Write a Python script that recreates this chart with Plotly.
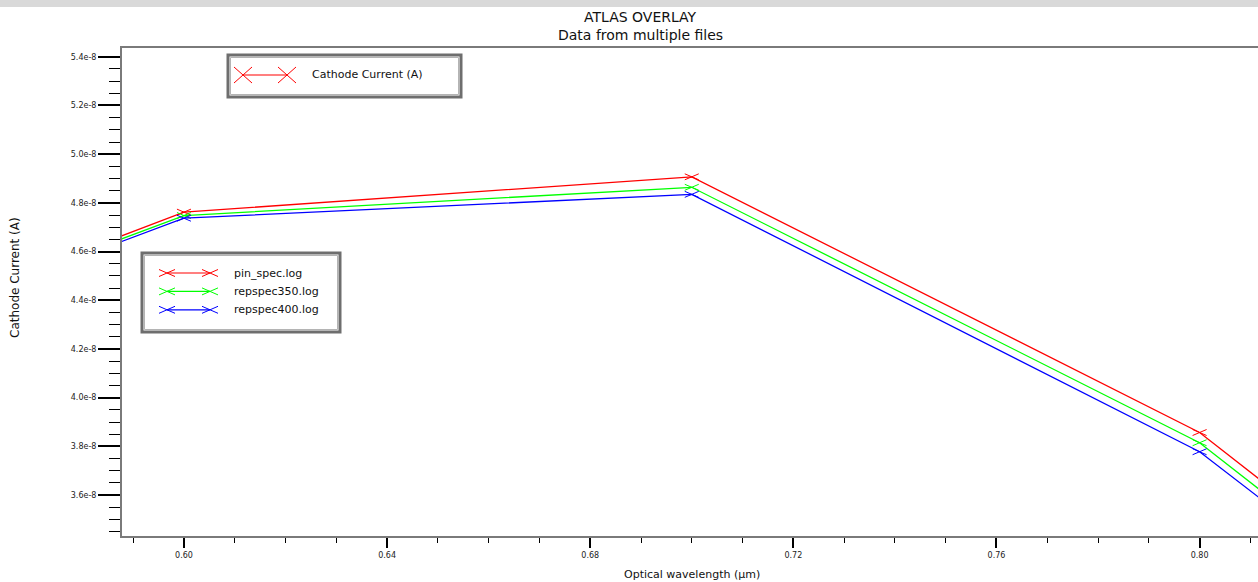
import plotly.graph_objects as go

# ---- data -------------------------------------------------------------
wavelength = [0.5, 0.6, 0.7, 0.8, 0.9]  # optical wavelength (um)
pin_spec = [3.967e-8, 4.762e-8, 4.907e-8, 3.857e-8, 2.230e-8]
repspec350 = [3.968e-8, 4.748e-8, 4.864e-8, 3.815e-8, 2.185e-8]
repspec400 = [3.957e-8, 4.737e-8, 4.835e-8, 3.778e-8, 2.170e-8]

series_names = ["pin_spec.log", "repspec350.log", "repspec400.log"]
series_colors = ["#ff0000", "#00ff00", "#0000ff"]

y_tick_values = [3.6e-8, 3.8e-8, 4.0e-8, 4.2e-8, 4.4e-8, 4.6e-8, 4.8e-8, 5.0e-8, 5.2e-8, 5.4e-8]
y_tick_labels = ["3.6e-8", "3.8e-8", "4.0e-8", "4.2e-8", "4.4e-8", "4.6e-8", "4.8e-8", "5.0e-8", "5.2e-8", "5.4e-8"]
x_tick_values = [0.60, 0.64, 0.68, 0.72, 0.76, 0.80]
x_tick_labels = ["0.60", "0.64", "0.68", "0.72", "0.76", "0.80"]

title_text = "ATLAS OVERLAY"
subtitle_text = "Data from multiple files"
x_title = "Optical wavelength (\u00b5m)"
y_title = "Cathode Current (A)"
quantity_label = "Cathode Current (A)"

# ---- geometry ---------------------------------------------------------
FIG_W, FIG_H = 1258, 582
M_L, M_R, M_T, M_B = 122, 0, 48, 46
PLOT_W = FIG_W - M_L - M_R
PLOT_H = FIG_H - M_T - M_B
X_RANGE = [0.5878, 0.8115]
Y_RANGE = [3.432e-8, 5.436e-8]
FONT = "DejaVu Sans"
FRAME = "#7a7a7a"


def paper_x(px):
    return (px - M_L) / PLOT_W


def paper_y(py):
    return (FIG_H - M_B - py) / PLOT_H


def cross_segments(xs, ys, half_w_px, half_h_px):
    """Flattened X markers drawn as two strokes around every data point."""
    dx = half_w_px * (X_RANGE[1] - X_RANGE[0]) / PLOT_W
    dy = half_h_px * (Y_RANGE[1] - Y_RANGE[0]) / PLOT_H
    sx, sy = [], []
    for x, y in zip(xs, ys):
        sx += [x - dx, x + dx, None, x - dx, x + dx, None]
        sy += [y - dy, y + dy, None, y + dy, y - dy, None]
    return sx, sy


fig = go.Figure()

for name, values, color in zip(series_names, [pin_spec, repspec350, repspec400], series_colors):
    fig.add_trace(go.Scatter(
        x=wavelength, y=values, mode="lines", name=name,
        line=dict(color=color, width=1.3), showlegend=False,
    ))
    mx, my = cross_segments(wavelength, values, 7, 3)
    fig.add_trace(go.Scatter(
        x=mx, y=my, mode="lines", line=dict(color=color, width=1),
        showlegend=False, hoverinfo="skip",
    ))

shapes = []
annotations = []

# light band across the top of the page
shapes.append(dict(type="rect", xref="paper", yref="paper",
                   x0=paper_x(0), x1=paper_x(FIG_W), y0=paper_y(7), y1=paper_y(0),
                   fillcolor="#d9d9d9", line=dict(width=0), layer="below"))


def legend_box(x0, y0, x1, y1):
    shapes.append(dict(type="rect", xref="paper", yref="paper",
                       x0=paper_x(x0), x1=paper_x(x1), y0=paper_y(y1), y1=paper_y(y0),
                       fillcolor="white", line=dict(color="#6e6e6e", width=3)))
    shapes.append(dict(type="rect", xref="paper", yref="paper",
                       x0=paper_x(x0 + 2.5), x1=paper_x(x1 - 2.5), y0=paper_y(y1 - 2.5), y1=paper_y(y0 + 2.5),
                       line=dict(color="#b4b4b4", width=1)))


def legend_sample(x0, x1, y, color, hw, hh, text, text_x, size):
    shapes.append(dict(type="line", xref="paper", yref="paper",
                       x0=paper_x(x0), x1=paper_x(x1), y0=paper_y(y), y1=paper_y(y),
                       line=dict(color=color, width=1.2)))
    for cx in (x0, x1):
        shapes.append(dict(type="line", xref="paper", yref="paper",
                           x0=paper_x(cx - hw), x1=paper_x(cx + hw),
                           y0=paper_y(y - hh), y1=paper_y(y + hh),
                           line=dict(color=color, width=1)))
        shapes.append(dict(type="line", xref="paper", yref="paper",
                           x0=paper_x(cx - hw), x1=paper_x(cx + hw),
                           y0=paper_y(y + hh), y1=paper_y(y - hh),
                           line=dict(color=color, width=1)))
    annotations.append(dict(xref="paper", yref="paper", x=paper_x(text_x), y=paper_y(y),
                            xanchor="left", yanchor="middle", text=text, showarrow=False,
                            font=dict(family=FONT, size=size, color="#111111")))


# quantity legend
legend_box(228, 55, 461, 97)
legend_sample(243, 287, 75, series_colors[0], 9, 8, quantity_label, 310, 11)

# file legend
legend_box(142, 253, 340, 332)
for i, (name, color) in enumerate(zip(series_names, series_colors)):
    legend_sample(167, 210, 273 + i * 18.4, color, 8, 3.5, name, 232, 11)

# titles
annotations.append(dict(xref="paper", yref="paper", x=paper_x(640), y=paper_y(17),
                        xanchor="center", yanchor="middle", text=title_text, showarrow=False,
                        font=dict(family=FONT, size=14, color="#111111")))
annotations.append(dict(xref="paper", yref="paper", x=paper_x(640), y=paper_y(35),
                        xanchor="center", yanchor="middle", text=subtitle_text, showarrow=False,
                        font=dict(family=FONT, size=14, color="#111111")))
annotations.append(dict(xref="paper", yref="paper", x=paper_x(692), y=paper_y(574),
                        xanchor="center", yanchor="middle", text=x_title, showarrow=False,
                        font=dict(family=FONT, size=11, color="#111111")))
annotations.append(dict(xref="paper", yref="paper", x=paper_x(15), y=paper_y(278),
                        xanchor="center", yanchor="middle", text=y_title, showarrow=False,
                        textangle=-90, font=dict(family=FONT, size=12, color="#111111")))

fig.update_layout(
    width=FIG_W, height=FIG_H,
    margin=dict(l=M_L, r=M_R, t=M_T, b=M_B, pad=0),
    paper_bgcolor="white", plot_bgcolor="white",
    showlegend=False,
    shapes=shapes, annotations=annotations,
    font=dict(family=FONT, color="#111111"),
    xaxis=dict(
        range=X_RANGE, showgrid=False, zeroline=False, automargin=False,
        showline=True, linecolor=FRAME, linewidth=2, mirror=True,
        tickmode="array", tickvals=x_tick_values, ticktext=x_tick_labels,
        ticks="outside", ticklen=10, tickwidth=2, tickcolor="black",
        tickfont=dict(family=FONT, size=8, color="#222222"),
        minor=dict(tickmode="linear", tick0=0.60, dtick=0.01, ticks="outside",
                   ticklen=5, tickwidth=1, tickcolor="black", showgrid=False),
    ),
    yaxis=dict(
        range=Y_RANGE, showgrid=False, zeroline=False, automargin=False,
        showline=True, linecolor=FRAME, linewidth=2,
        tickmode="array", tickvals=y_tick_values, ticktext=y_tick_labels,
        ticks="outside", ticklen=22, tickwidth=2, tickcolor="black",
        tickfont=dict(family=FONT, size=8, color="#222222"),
        minor=dict(tickmode="linear", tick0=3.6e-8, dtick=0.05e-8, ticks="outside",
                   ticklen=11, tickwidth=1, tickcolor="black", showgrid=False),
    ),
)

fig.write_html("out.html")
